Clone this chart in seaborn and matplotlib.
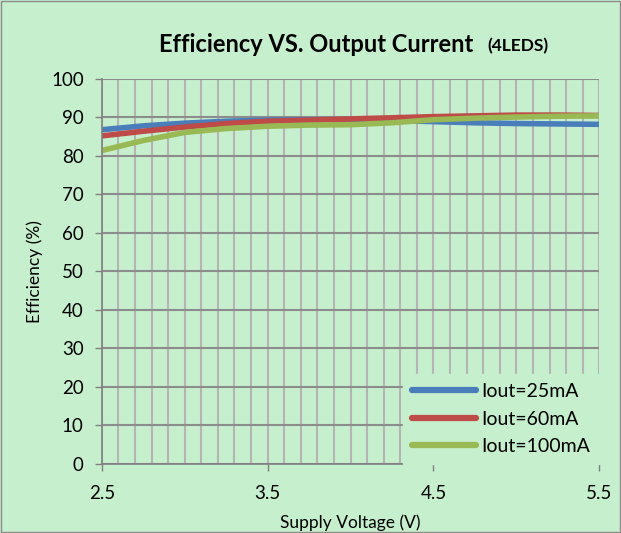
import numpy as np
import pandas as pd
import seaborn as sns
import matplotlib.pyplot as plt
from matplotlib.ticker import MultipleLocator

# values
voltage = [2.5, 2.75, 3.0, 3.25, 3.5, 3.75, 4.0, 4.25, 4.5, 4.75, 5.0, 5.25, 5.5]
eff_25ma = [86.8, 87.8, 88.5, 89.0, 89.3, 89.4, 89.4, 89.2, 88.9, 88.6, 88.4, 88.3, 88.2]
eff_60ma = [85.2, 86.4, 87.5, 88.4, 89.0, 89.3, 89.6, 89.9, 90.2, 90.4, 90.6, 90.6, 90.5]
eff_100ma = [81.4, 84.0, 86.1, 87.1, 87.7, 88.0, 88.1, 88.6, 89.4, 89.8, 90.1, 90.3, 90.4]
series_names = ["Iout=25mA", "Iout=60mA", "Iout=100mA"]
colors = ["#4a7ebb", "#be4b48", "#98b954"]

df = pd.DataFrame({"Supply Voltage (V)": voltage * 3,
                   "Efficiency (%)": eff_25ma + eff_60ma + eff_100ma,
                   "Series": [series_names[0]] * len(voltage) + [series_names[1]] * len(voltage)
                             + [series_names[2]] * len(voltage)})

bg = "#c6efce"
sns.set_theme(style="white")
plt.rcParams["font.family"] = ["Lato", "DejaVu Sans"]
plt.rcParams["text.color"] = "black"
plt.rcParams["axes.labelcolor"] = "black"

fig = plt.figure(figsize=(6.21, 5.33), dpi=100, facecolor=bg)
ax = fig.add_axes([0.164, 0.1295, 0.801, 0.7225])
ax.set_facecolor(bg)

sns.lineplot(data=df, x="Supply Voltage (V)", y="Efficiency (%)", hue="Series",
             palette=colors, linewidth=4, ax=ax, solid_capstyle="round")

ax.set_xlim(2.5, 5.5)
ax.set_ylim(0, 100)
ax.xaxis.set_major_locator(MultipleLocator(1))
ax.xaxis.set_minor_locator(MultipleLocator(0.1))
ax.yaxis.set_major_locator(MultipleLocator(10))
ax.grid(which="minor", axis="x", color="#b4b4b4", linewidth=1.5)
ax.grid(which="major", axis="x", color="#b4b4b4", linewidth=1.5)
ax.grid(which="major", axis="y", color="#8c8c8c", linewidth=1.5)
ax.set_axisbelow(True)
ax.tick_params(axis="both", which="major", direction="out", length=5, width=1,
               color="#808080", labelsize=13.5, labelcolor="black", bottom=True, left=True)
ax.tick_params(axis="x", pad=10)
ax.tick_params(axis="y", pad=8)
for side in ["top", "right"]:
    ax.spines[side].set_visible(False)
for side in ["left", "bottom"]:
    ax.spines[side].set_color("#808080")
    ax.spines[side].set_linewidth(1.2)

ax.set_xlabel("Supply Voltage (V)", fontsize=12.5, labelpad=9)
ax.set_ylabel("Efficiency (%)", fontsize=12.5, labelpad=6)
ax.set_xticks([2.5, 3.5, 4.5, 5.5])
ax.set_xticklabels(["2.5", "3.5", "4.5", "5.5"])

leg = ax.legend(loc="lower right", frameon=True, fontsize=14, handlelength=3.3,
                borderaxespad=0, borderpad=0.45, labelspacing=0.55, handletextpad=0.3)
leg.get_frame().set_facecolor(bg)
leg.get_frame().set_edgecolor(bg)
leg.get_frame().set_alpha(1)
leg.get_frame().set_boxstyle("square", pad=0)
for line in leg.get_lines():
    line.set_linewidth(4.5)

fig.text(0.256, 0.916, "Efficiency VS. Output Current", fontsize=17, fontweight="bold",
         va="center", ha="left")
fig.text(0.785, 0.913, "(4LEDS)", fontsize=12.5, fontweight="bold", va="center", ha="left")

fig.patches.append(plt.Rectangle((0.002, 0.002), 0.996, 0.996, transform=fig.transFigure,
                                 fill=False, edgecolor="#8c8c8c", linewidth=1))

fig.savefig("out.png", dpi=100, facecolor=bg)
